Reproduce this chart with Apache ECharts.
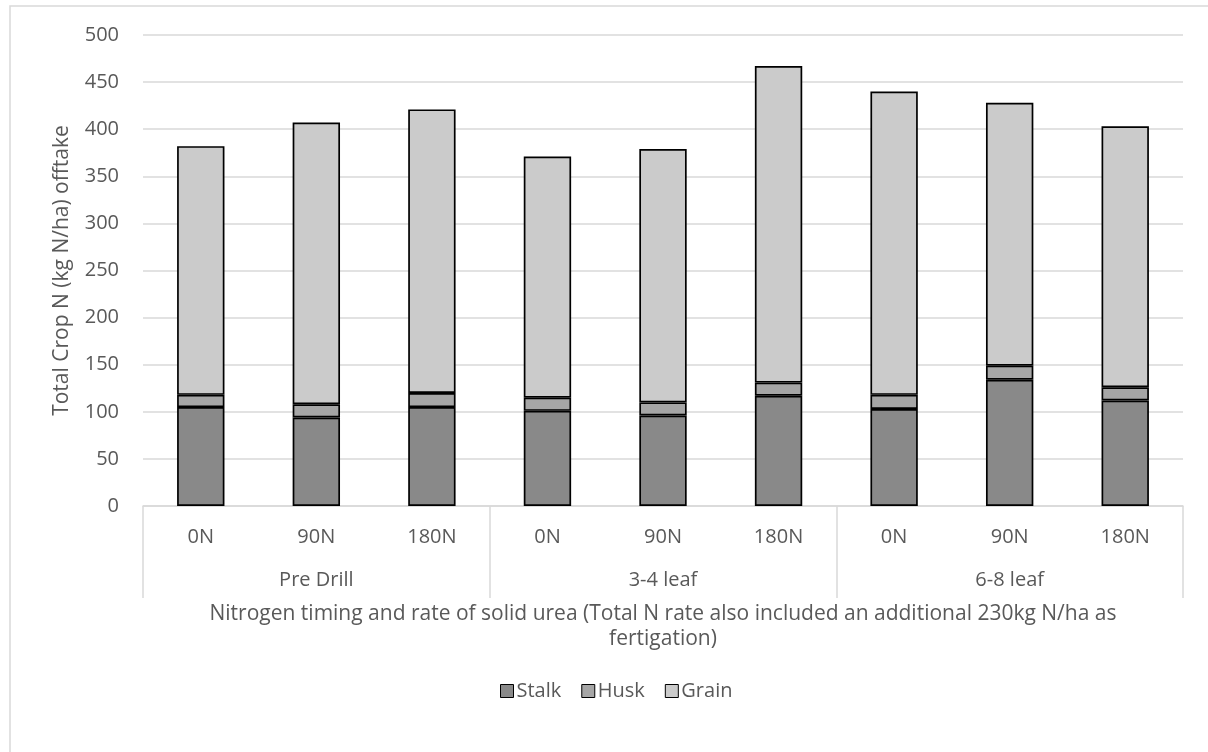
<!DOCTYPE html>
<html>
<head>
<meta charset="utf-8">
<script src="https://cdn.jsdelivr.net/npm/echarts@6/dist/echarts.min.js"></script>
<style>
html,body{margin:0;padding:0;background:#fff;}
#chart{width:1208px;height:752px;}
</style>
</head>
<body>
<div id="chart"></div>
<script>
const rates = ['0N','90N','180N','0N','90N','180N','0N','90N','180N'];
const timings = ['Pre Drill','3-4 leaf','6-8 leaf'];
const stalk = [105, 94, 105, 101, 96, 117, 103, 134, 112];
const husk = [13, 14, 15, 14, 14, 14, 15, 15, 14];
const grain = [264, 299, 301, 256, 269, 336, 322, 279, 277];
const yTicks = {min: 0, max: 500, interval: 50};
const xTitle = 'Nitrogen timing and rate of solid urea (Total N rate also included an additional 230kg N/ha as\nfertigation)';
const yTitle = 'Total Crop N (kg N/ha) offtake';

const sans = '"Open Sans","Noto Sans",sans-serif';
const gridColor = '#d9d9d9';
const textColor = '#595959';

const chart = echarts.init(document.getElementById('chart'));
const mk = (name, data, color) => ({
  name, type: 'bar', stack: 'total', data, barWidth: '41%',
  itemStyle: {color, borderColor: '#000', borderWidth: 1.7},
  emphasis: {disabled: true}
});
chart.setOption({
  animation: false,
  backgroundColor: '#fff',
  graphic: [{
    type: 'rect', shape: {x: 10, y: 6, width: 1300, height: 900},
    style: {fill: 'none', stroke: gridColor, lineWidth: 1.5}, silent: true, z: -1
  }],
  grid: {left: 143, right: 25, top: 35, bottom: 246},
  legend: {
    top: 676, left: 495, itemWidth: 13, itemHeight: 13, itemGap: 20, icon: 'rect',
    textStyle: {fontFamily: sans, fontSize: 20, color: textColor, padding: [0, 0, 0, -2]},
    data: ['Stalk','Husk','Grain'],
    itemStyle: {borderColor: '#000', borderWidth: 1}
  },
  xAxis: [{
    type: 'category', data: rates, position: 'bottom',
    axisLine: {show: true, lineStyle: {color: gridColor, width: 1.5}},
    axisTick: {show: false},
    axisLabel: {margin: 21, fontFamily: sans, fontSize: 20, color: textColor, interval: 0}
  }, {
    type: 'category', data: timings, position: 'bottom',
    axisLine: {show: false},
    axisTick: {show: true, interval: 0, length: 92, lineStyle: {color: gridColor, width: 1.5}},
    axisLabel: {margin: 64, fontFamily: sans, fontSize: 20, color: textColor, interval: 0},
    name: xTitle, nameLocation: 'middle', nameGap: 96,
    nameTextStyle: {fontFamily: sans, fontSize: 21, color: textColor, lineHeight: 25, align: 'center'}
  }],
  yAxis: {
    type: 'value', min: yTicks.min, max: yTicks.max, interval: yTicks.interval,
    axisLine: {show: false}, axisTick: {show: false},
    splitLine: {lineStyle: {color: gridColor, width: 1.5}},
    axisLabel: {margin: 24, fontFamily: sans, fontSize: 20, color: textColor},
    name: yTitle, nameLocation: 'middle', nameGap: 70,
    nameTextStyle: {fontFamily: sans, fontSize: 21, color: textColor}
  },
  series: [
    mk('Stalk', stalk, '#898989'),
    mk('Husk', husk, '#a6a6a6'),
    mk('Grain', grain, '#cbcbcb')
  ]
});
</script>
</body>
</html>
